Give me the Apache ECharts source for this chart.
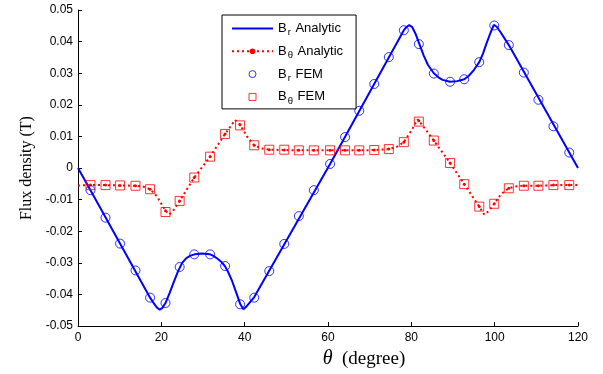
<!DOCTYPE html>
<html><head><meta charset="utf-8">
<script src="https://cdn.jsdelivr.net/npm/echarts@6/dist/echarts.min.js"></script>
<style>html,body{margin:0;padding:0;background:#fff}#c{width:603px;height:374px}</style>
</head><body><div id="c"></div>
<script>
// FEM node angles (degree)
const nodeDeg = [3.0,6.6,10.1,13.8,17.3,21.0,24.4,27.9,31.7,35.3,38.9,42.3,45.9,49.5,53.0,56.6,60.5,64.1,67.5,71.1,74.6,78.2,81.8,85.4,89.3,92.7,96.3,99.9,103.4,107.0,110.5,114.1,117.9];
// Br FEM (T)
const brFem = [-0.0070,-0.0157,-0.0239,-0.0324,-0.0410,-0.0427,-0.0313,-0.0273,-0.0273,-0.0310,-0.0431,-0.0410,-0.0326,-0.0240,-0.0152,-0.0070,0.0013,0.0098,0.0181,0.0266,0.0351,0.0436,0.0392,0.0299,0.0273,0.0281,0.0335,0.0451,0.0389,0.0302,0.0216,0.0132,0.0049];
// Btheta FEM (T)
const btFem = [-0.0054,-0.0054,-0.0055,-0.0056,-0.0067,-0.0139,-0.0104,-0.0030,0.0036,0.0108,0.0135,0.0072,0.0058,0.0058,0.0056,0.0056,0.0056,0.0056,0.0056,0.0057,0.0060,0.0082,0.0147,0.0087,0.0016,-0.0051,-0.0122,-0.0113,-0.0064,-0.0056,-0.0056,-0.0054,-0.0054];
// Br analytic
const brAnDeg = [0,3.0,17.3,18.3,19.0,19.6,20.2,21.0,22,23,24,25,26,27,28,29.8,31.7,32.5,33.5,34.5,35.3,36,37,38,38.9,39.7,40.5,41.3,42.3,60.5,78.2,78.9,79.5,80.2,81,81.8,83,84,85.4,86.5,87.5,89.3,91,92.7,93.8,95,96.3,97.2,98,99,99.8,100.5,101.5,103.4,120];
const brAnVal = [0,-0.0070,-0.0410,-0.0430,-0.0442,-0.0448,-0.0443,-0.0427,-0.0395,-0.0360,-0.0327,-0.0300,-0.0285,-0.0277,-0.0273,-0.0270,-0.0273,-0.0278,-0.0287,-0.0298,-0.0311,-0.0328,-0.0358,-0.0395,-0.0429,-0.0447,-0.0437,-0.0424,-0.0408,0.0013,0.0436,0.0447,0.0452,0.0446,0.0425,0.0397,0.0355,0.0326,0.0300,0.0287,0.0279,0.0273,0.0275,0.0281,0.0292,0.0310,0.0335,0.0362,0.0393,0.0428,0.0453,0.0447,0.0428,0.0389,0];
// Btheta analytic
const btAnDeg = [0,3.0,6.6,10.1,13.8,15.5,17.3,19.0,20.3,21.0,21.9,22.8,24.4,27.9,31.7,35.3,37.7,38.9,40.5,42.3,44.0,45.9,49.5,53.0,56.6,60.5,64.1,67.5,71.1,74.6,76.5,78.2,80.0,81.5,81.8,82.8,85.4,89.3,92.7,96.3,97.5,98.6,99.9,101.5,103.4,105.0,107.0,110.5,114.1,117.9,120];
const btAnVal = [-0.0055,-0.0054,-0.0054,-0.0055,-0.0056,-0.0058,-0.0067,-0.0090,-0.0120,-0.0135,-0.0147,-0.0136,-0.0104,-0.0030,0.0036,0.0108,0.0152,0.0137,0.0101,0.0072,0.0062,0.0058,0.0057,0.0056,0.0056,0.0056,0.0056,0.0056,0.0057,0.0060,0.0067,0.0082,0.0118,0.0154,0.0150,0.0133,0.0087,0.0016,-0.0051,-0.0122,-0.0147,-0.0136,-0.0113,-0.0083,-0.0064,-0.0058,-0.0056,-0.0056,-0.0054,-0.0054,-0.0054];
const seriesNames = ['Br Analytic','B\u03b8 Analytic','Br FEM','B\u03b8 FEM'];
const legendLabels = {
  'Br Analytic': '{b|B}{s|r}{b| Analytic}',
  'B\u03b8 Analytic': '{b|B}{s|\u03b8}{b| Analytic}',
  'Br FEM': '{b|B}{s|r}{b| FEM}',
  'B\u03b8 FEM': '{b|B}{s|\u03b8}{b| FEM}'
};

const BLUE = '#0000ff', RED = '#ff0000';
const SANS = 'Liberation Sans, Arial, sans-serif';
const SERIF = 'Liberation Serif, Times New Roman, serif';
const SQUARE = 'path://M0 0H10V10H0Z';
const chart = echarts.init(document.getElementById('c'), null, {renderer: 'canvas'});
chart.setOption({
  animation: false,
  backgroundColor: '#fff',
  grid: {left: 78, right: 25, top: 10, bottom: 39, containLabel: false},
  legend: {
    orient: 'vertical', left: 222, top: 15,
    padding: [7, 13, 3, 9], itemGap: 7.3, itemWidth: 41, itemHeight: 7,
    borderColor: '#000', borderWidth: 1, backgroundColor: '#fff',
    symbolKeepAspect: true,
    data: [
      {name: seriesNames[0], itemStyle: {opacity: 0}},
      {name: seriesNames[1]},
      {name: seriesNames[2], itemStyle: {borderWidth: 1}},
      {name: seriesNames[3], itemStyle: {borderWidth: 1}}
    ],
    formatter: n => legendLabels[n],
    textStyle: {
      fontFamily: SANS, fontSize: 13, color: '#000',
      rich: {
        b: {fontFamily: SANS, fontSize: 13, color: '#000'},
        s: {fontFamily: SANS, fontSize: 9.5, color: '#000', padding: [8, 1, 0, 1]}
      }
    }
  },
  xAxis: {
    type: 'value', min: 0, max: 120, interval: 20,
    axisLine: {show: true, onZero: false, lineStyle: {color: '#000', width: 1}},
    axisTick: {show: true, inside: true, length: 4, lineStyle: {color: '#000'}},
    splitLine: {show: false},
    axisLabel: {color: '#000', fontFamily: SANS, fontSize: 12, margin: 6},
    name: '{t|\u03b8}{d|  (degree)}', nameLocation: 'middle', nameGap: 19,
    nameTextStyle: {
      padding: [0, 0, 0, 72],
      rich: {
        t: {fontFamily: SERIF, fontStyle: 'italic', fontSize: 20, color: '#000'},
        d: {fontFamily: SERIF, fontSize: 19, color: '#000'}
      }
    }
  },
  yAxis: {
    type: 'value', min: -0.05, max: 0.05, interval: 0.01,
    axisLine: {show: true, onZero: false, lineStyle: {color: '#000', width: 1}},
    axisTick: {show: true, inside: true, length: 4, lineStyle: {color: '#000'}},
    splitLine: {show: false},
    axisLabel: {color: '#000', fontFamily: SANS, fontSize: 12, margin: 5,
      formatter: v => String(Math.round(v * 100) / 100)},
    name: 'Flux density (T)', nameLocation: 'middle', nameGap: 40,
    nameTextStyle: {fontFamily: SERIF, fontSize: 16, color: '#000'}
  },
  series: [
    {
      name: seriesNames[0], type: 'line', symbol: 'none', z: 2,
      data: brAnDeg.map((d, i) => [d, brAnVal[i]]),
      lineStyle: {color: BLUE, width: 2}, itemStyle: {color: BLUE}
    },
    {
      name: seriesNames[1], type: 'line', symbol: 'circle', symbolSize: 3, showAllSymbol: true, z: 3,
      data: btAnDeg.map((d, i) => nodeDeg.indexOf(d) >= 0 ? {value: [d, btAnVal[i]]} : {value: [d, btAnVal[i]], symbol: 'none'}),
      lineStyle: {color: RED, width: 2, type: [2, 3]}, itemStyle: {color: RED}
    },
    {
      name: seriesNames[2], type: 'scatter', symbol: 'circle', symbolSize: 9, symbolKeepAspect: true, z: 4,
      data: nodeDeg.map((d, i) => [d, brFem[i]]),
      itemStyle: {color: 'rgba(0,0,0,0)', borderColor: BLUE, borderWidth: 1}
    },
    {
      name: seriesNames[3], type: 'scatter', symbol: SQUARE, symbolSize: 9, symbolKeepAspect: true, z: 4,
      data: nodeDeg.map((d, i) => [d, btFem[i]]),
      itemStyle: {color: 'rgba(0,0,0,0)', borderColor: RED, borderWidth: 1}
    }
  ]
});
</script></body></html>
